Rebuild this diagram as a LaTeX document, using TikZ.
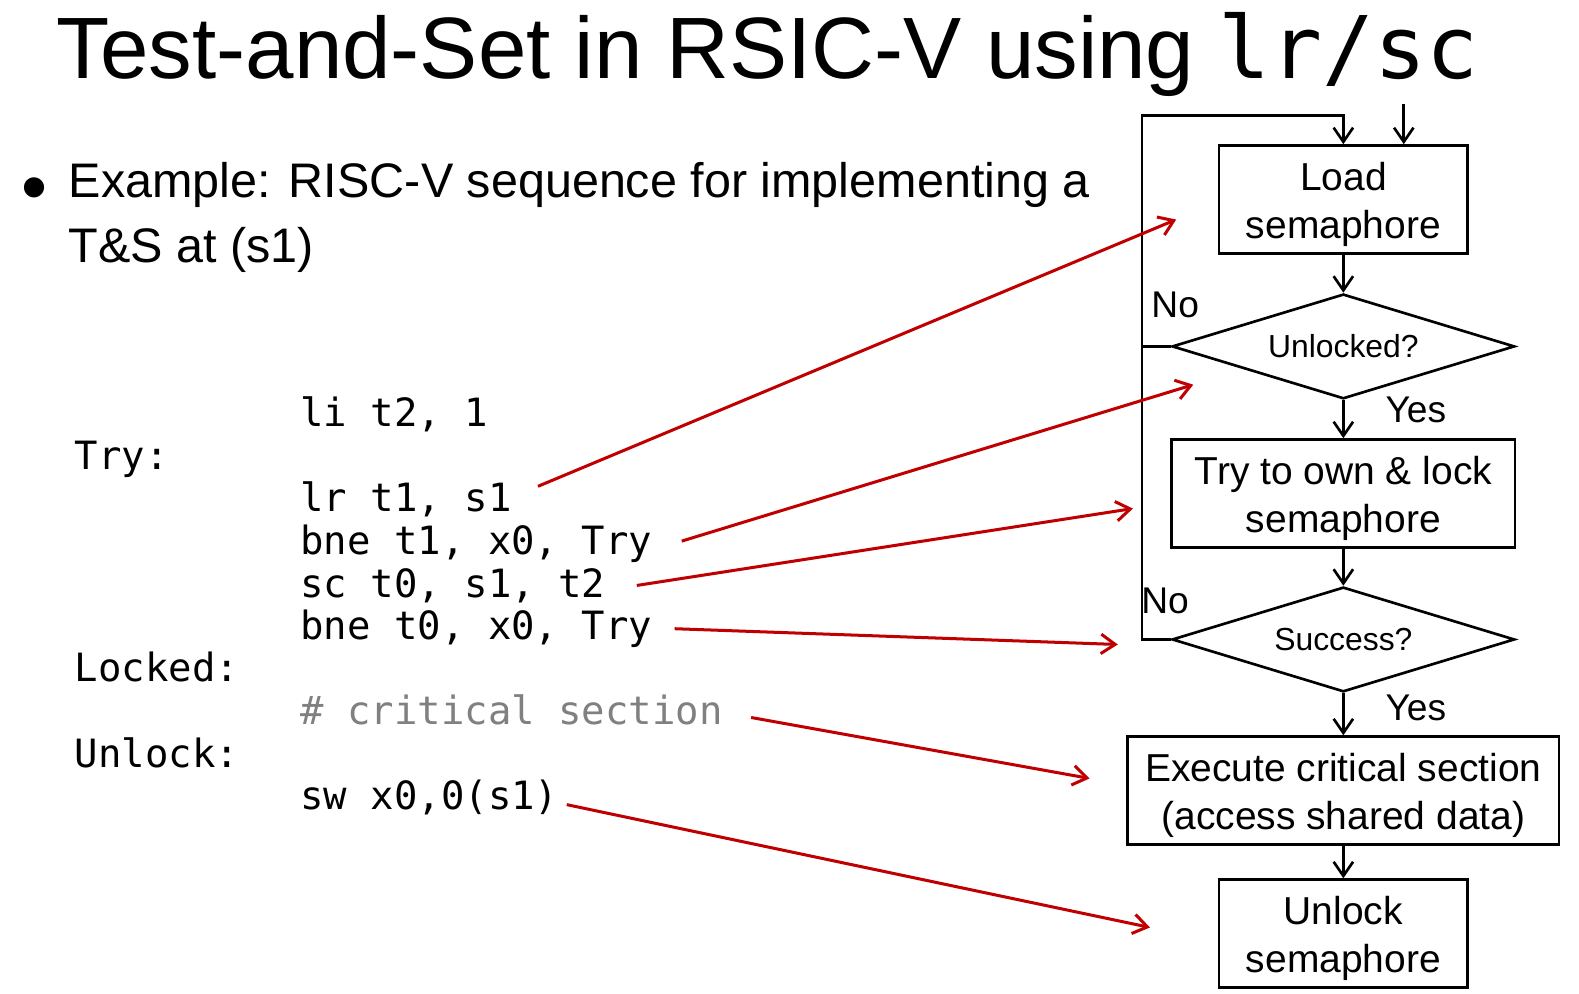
\documentclass[tikz,border=0pt]{standalone}
\usepackage{fontspec}
\setmainfont{Liberation Sans}
\setmonofont{DejaVu Sans Mono}
\usetikzlibrary{arrows.meta, positioning, shapes.geometric, calc}
\definecolor{darkred}{RGB}{192,0,0}
\newcommand{\topstrut}{\rule{0pt}{10.8pt}}

\begin{document}
\begin{tikzpicture}[x=0.01cm, y=-0.01cm, line width=0.75pt,
    box/.style={draw, rectangle, minimum height=1.07cm, inner sep=0pt, align=center,
        font=\fontsize{11}{13.4}\selectfont},
    decision/.style={draw, diamond, aspect=3.27, minimum width=3.4cm, minimum height=1.04cm, inner sep=0pt, font=\fontsize{9}{11}\selectfont},
    flow/.style={-{Straight Barb[length=4pt, width=5.5pt]}},
    link/.style={-{Straight Barb[length=4pt, width=5.5pt]}, darkred, line width=0.85pt},
    code/.style={anchor=base west, inner sep=0pt, font=\fontsize{11}{13}\selectfont\ttfamily},
    answer/.style={font=\fontsize{10.5}{12}\selectfont}]
    \useasboundingbox (0,0) rectangle (1568,987);

    % title and bullet
    \node[anchor=base west, inner sep=0pt, font=\fontsize{24.6}{28}\selectfont] (title) at (55,78) {Test-and-Set in RSIC-V using \texttt{\fontsize{24.4}{28}\selectfont lr/sc}};
    \node[anchor=base west, inner sep=0pt, font=\fontsize{21}{24}\selectfont] (dot) at (20,211) {•};
    \node[anchor=base west, inner sep=0pt, font=\fontsize{13.7}{19}\selectfont] (ex1) at (67,196) {Example: RISC-V sequence for implementing a};
    \node[anchor=base west, inner sep=0pt, font=\fontsize{13.7}{19}\selectfont] (ex2) at (67,261) {T\&S at (s1)};

    % code
    \node[code] (lTry) at (73,466) {Try:};
    \node[code] (lLocked) at (73,677) {Locked:};
    \node[code] (lUnlock) at (73,762) {Unlock:};
    \node[code] (li) at (297,424) {li t2, 1};
    \node[code] (lr) at (297,508) {lr t1, s1};
    \node[code] (bneA) at (297,551) {bne t1, x0, Try};
    \node[code] (sc) at (297,593) {sc t0, s1, t2};
    \node[code] (bneB) at (297,635) {bne t0, x0, Try};
    \node[code, text=gray] (crit) at (297,719) {\# critical section};
    \node[code] (sw) at (297,804) {sw x0,0(s1)};

    % flowchart
    \node[box, minimum width=2.47cm] (load) at (1334,198) {\topstrut Load\\semaphore};
    \node[decision] (unl) at (1334,344) {Unlocked?};
    \node[box, minimum width=3.41cm] (try) at (1334,490) {\topstrut Try to own \& lock\\semaphore};
    \node[decision] (suc) at (1334,635) {Success?};
    \node[box, minimum width=4.28cm] (exec) at (1334,785) {\topstrut Execute critical section\\(access shared data)};
    \node[box, minimum width=2.47cm] (unlk) at (1334,927) {\topstrut Unlock\\semaphore};

    \draw[flow] (load) -- (unl);
    \draw[flow] (unl) -- (try);
    \draw[flow] (try) -- (suc);
    \draw[flow] (suc) -- (exec);
    \draw[flow] (exec) -- (unlk);

    % retry loop
    \coordinate (loopTL) at (1134,115);
    \coordinate (entry) at (1394,103);
    \draw[flow] (suc.west) -| (loopTL) -| (load.north);
    \draw (unl.west) -- (unl.west -| loopTL);
    \draw[flow] (entry) -- (entry |- load.north);

    \node[answer] (no1) at (1167,303) {No};
    \node[answer] (no2) at (1157,597) {No};
    \node[answer] (yes1) at (1406,407) {Yes};
    \node[answer] (yes2) at (1406,703) {Yes};

    % red links
    \coordinate (tipLoad) at (1168,218);
    \coordinate (tipUnl) at (1185,382);
    \coordinate (tipTry) at (1125,505);
    \coordinate (tipSuc) at (1110,640);
    \coordinate (tipExec) at (1082,773);
    \coordinate (tipUnlk) at (1142,921);
    \draw[link] ($(lr.east)+(25,-13)$) -- (tipLoad);
    \draw[link] ($(bneA.east)+(28,-3)$) -- (tipUnl);
    \draw[link] ($(sc.east)+(30,0)$) -- (tipTry);
    \draw[link] ($(bneB.east)+(21,0)$) -- (tipSuc);
    \draw[link] ($(crit.east)+(27,8)$) -- (tipExec);
    \draw[link] ($(sw.east)+(7,7)$) -- (tipUnlk);
\end{tikzpicture}
\end{document}
